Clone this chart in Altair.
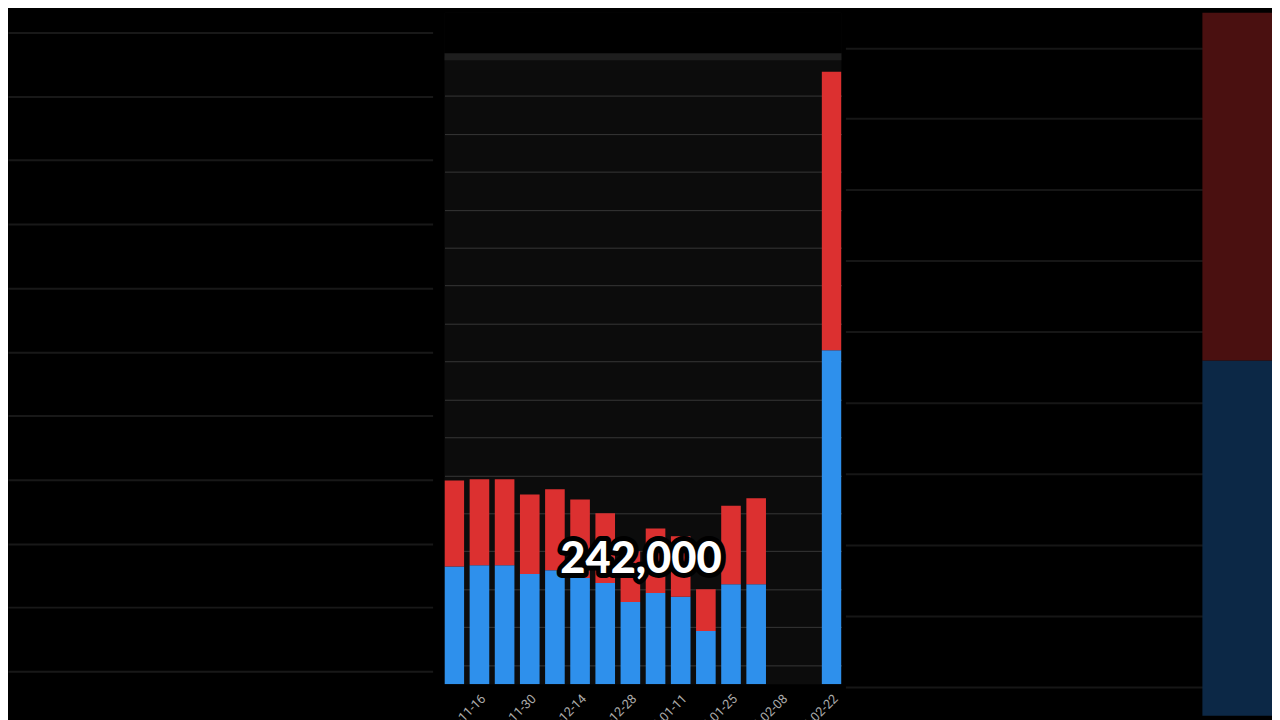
import altair as alt
import pandas as pd

# ---- data (weekly stacked bars) ----
weeks = ["2023-11-09", "2023-11-16", "2023-11-23", "2023-11-30", "2023-12-07",
         "2023-12-14", "2023-12-21", "2023-12-28", "2024-01-04", "2024-01-11",
         "2024-01-18", "2024-01-25", "2024-02-01", "2024-02-08", "2024-02-15",
         "2024-02-22"]
label_weeks = weeks[1::2]
blue_vals = [46500, 47000, 47000, 43500, 45000, 42000, 40000, 32500, 36000,
             34500, 21000, 39500, 39500, 0, 0, 132000]
red_vals = [34000, 34000, 34000, 31500, 32000, 31000, 27500, 20000, 25500,
            24000, 16500, 31000, 34000, 0, 0, 110000]
series = ["Blue", "Red"]
colors = ["#2e90ec", "#dc3030"]
dim_colors = ["#0c2846", "#4a1010"]
caption = "242,000"
grid_step = 7500
frame_top = [248000]

rows = []
for w, b, r in zip(weeks, blue_vals, red_vals):
    rows.append({"week": w, "series": "Blue", "value": b, "ord": 0})
    rows.append({"week": w, "series": "Red", "value": r, "ord": 1})
df = pd.DataFrame(rows)

center_grid = list(range(grid_step, 240001, grid_step))
left_grid = list(range(105000, 180001, grid_step))
right_grid = list(range(97500, 165001, grid_step))


def grid_axis(vals, color, width):
    return alt.Axis(values=vals, grid=True, gridColor=color, gridWidth=width,
                    labels=False, ticks=False, domain=False, title=None,
                    minExtent=0)


# ---- centre panel ----
bars = alt.Chart(df).mark_bar(clip=True).encode(
    x=alt.X("week:N", sort=weeks,
            scale=alt.Scale(domain=weeks, paddingInner=0.22, paddingOuter=0.0),
            axis=alt.Axis(values=label_weeks, labelAngle=315, labelColor="#aaaaaa",
                          labelFontSize=13, labelFont="Roboto", labelPadding=8,
                          ticks=False, domain=False, grid=False, title=None)),
    y=alt.Y("value:Q", stack="zero",
            scale=alt.Scale(domain=[0, 265400], nice=False, zero=True),
            axis=grid_axis(center_grid, "#383838", 1)),
    color=alt.Color("series:N", scale=alt.Scale(domain=series, range=colors), legend=None),
    order=alt.Order("ord:Q"),
)

top_df = pd.DataFrame({"v": frame_top})
mask = alt.Chart(top_df).mark_rect(color="black").encode(
    y=alt.Y("v:Q"), y2=alt.value(0))
band = alt.Chart(top_df).mark_rule(color="#1e1e1e", strokeWidth=7).encode(y=alt.Y("v:Q"))

cap_df = pd.DataFrame({"t": [caption]})
cap_outline = alt.Chart(cap_df).mark_text(
    font="Lato", fontSize=44, fontWeight=900, color="black", stroke="black",
    strokeWidth=10, strokeJoin="round", align="center", baseline="middle"
).encode(text="t:N", x=alt.value(199), y=alt.value(554))
cap_white = alt.Chart(cap_df).mark_text(
    font="Lato", fontSize=44, fontWeight=900, color="white",
    align="center", baseline="middle"
).encode(text="t:N", x=alt.value(199), y=alt.value(554))

center = alt.layer(mask, band, bars, cap_outline, cap_white).properties(
    width=402, height=680,
    view=alt.ViewBackground(fill="#0c0c0c", stroke="transparent"))

# ---- blurred left panel (upper empty region of the early weeks) ----
left_weeks = weeks[:10]
left_df = df[df["week"].isin(left_weeks)]
left = alt.Chart(left_df).mark_bar(clip=True).encode(
    x=alt.X("week:N", sort=left_weeks, axis=None),
    y=alt.Y("value:Q", stack="zero",
            scale=alt.Scale(domain=[99786, 182318], nice=False, zero=False),
            axis=grid_axis(left_grid, "#181818", 2)),
    color=alt.Color("series:N", scale=alt.Scale(domain=series, range=dim_colors), legend=None),
    order=alt.Order("ord:Q"),
).properties(width=430, height=712,
             view=alt.ViewBackground(fill="black", stroke="transparent"))

# ---- blurred right panel (zoom on the last bar) ----
right_weeks = weeks[-3:]
right_df = df[df["week"].isin(right_weeks)]
right = alt.Chart(right_df).mark_bar(clip=True).encode(
    x=alt.X("week:N", sort=right_weeks,
            scale=alt.Scale(domain=right_weeks, paddingInner=0.61, paddingOuter=0),
            axis=None),
    y=alt.Y("value:Q", stack="zero",
            scale=alt.Scale(domain=[94500, 168700], nice=False, zero=False),
            axis=grid_axis(right_grid, "#161616", 2)),
    color=alt.Color("series:N", scale=alt.Scale(domain=series, range=dim_colors), legend=None),
    order=alt.Order("ord:Q"),
).properties(width=432, height=712,
             view=alt.ViewBackground(fill="black", stroke="transparent"))

chart = alt.hconcat(left, center, right, spacing=0).resolve_scale(
    x="independent", y="independent", color="independent"
).properties(background="black", padding=0).configure_view(strokeWidth=0)

chart.save("out.html", embed_options={"renderer": "svg", "actions": False})
